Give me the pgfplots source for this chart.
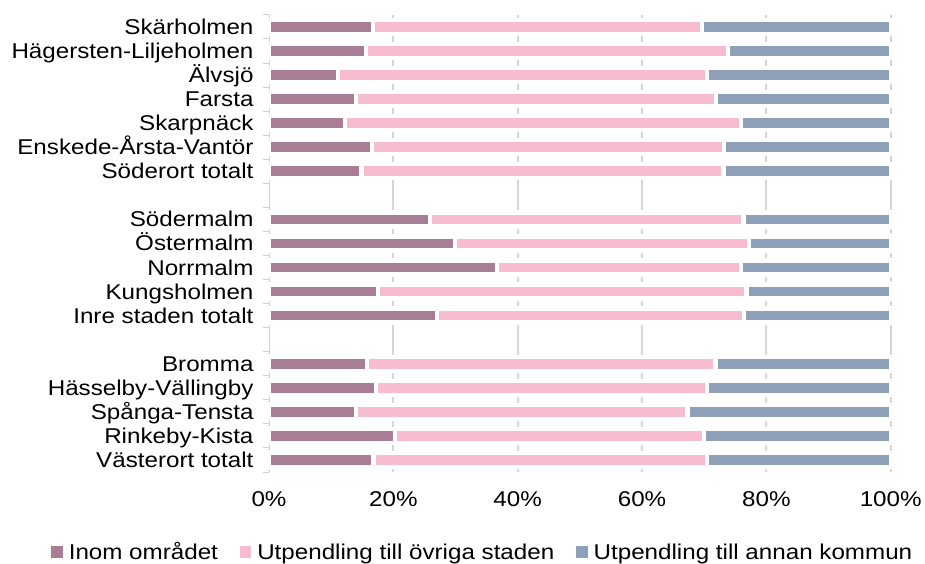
\documentclass[border=0pt]{standalone}
\usepackage{fontspec}
\setmainfont{Liberation Sans}[FakeStretch=1.13]
\usepackage{pgfplots}
\usepackage{pgfplotstable}
\pgfplotsset{compat=1.18}
\definecolor{cA}{HTML}{A77E95}
\definecolor{cB}{HTML}{F7BCD0}
\definecolor{cC}{HTML}{8E9FBA}
\definecolor{gridc}{HTML}{D6D6D6}
\definecolor{axc}{HTML}{D0D0D0}
\newcommand\fs{\fontsize{21.4pt}{24pt}\selectfont}
\pgfplotstableread{
y a b c
0 16.7 52.9 30.4
1 15.6 58.2 26.2
2 11.1 59.3 29.6
3 14.0 57.9 28.1
4 12.2 63.7 24.1
5 16.6 56.6 26.8
6 14.9 58.2 26.9
8 25.9 50.4 23.7
9 29.9 47.3 22.8
10 36.7 39.2 24.1
11 17.5 59.3 23.2
12 27.0 49.4 23.6
14 15.8 56.0 28.2
15 17.2 53.3 29.5
16 14.0 53.3 32.7
17 20.3 49.7 30.0
18 16.8 53.7 29.5
}\datatable
\pgfplotstableread{
x y
20 -0.5
20 18.5
nan nan
40 -0.5
40 18.5
nan nan
60 -0.5
60 18.5
nan nan
80 -0.5
80 18.5
nan nan
100 -0.5
100 18.5
}\gridtable
\begin{document}
\begin{tikzpicture}
\path[use as bounding box] (0,0) rectangle (925pt,563pt);
\begin{axis}[
  at={(269pt,91pt)}, anchor=south west,
  scale only axis, width=621.7pt, height=457.1pt,
  xmin=0, xmax=100, ymin=-0.5, ymax=18.5, y dir=reverse,
  hide axis, unbounded coords=jump, clip=false,
]
\addplot[draw=gridc, line width=2pt, mark=none] table[x=x,y=y] {\gridtable};
\end{axis}
\begin{axis}[
  at={(269pt,91pt)}, anchor=south west,
  scale only axis, width=621.7pt, height=457.1pt,
  xbar stacked, bar width=14pt,
  xmin=0, xmax=100, ymin=-0.5, ymax=18.5, y dir=reverse,
  axis y line*=left, axis x line*=bottom,
  x axis line style={draw=none},
  y axis line style={draw=axc, line width=1pt},
  xtick={0,20,40,60,80,100},
  xticklabels={0\%,20\%,40\%,60\%,80\%,100\%},
  major tick length=0pt,
  ytick={0,...,18},
  yticklabels={Skärholmen,Hägersten-Liljeholmen,Älvsjö,Farsta,Skarpnäck,Enskede-Årsta-Vantör,Söderort totalt,,Södermalm,Östermalm,Norrmalm,Kungsholmen,Inre staden totalt,,Bromma,Hässelby-Vällingby,Spånga-Tensta,Rinkeby-Kista,Västerort totalt},
  minor ytick={-0.5,0.5,...,18.5},
  minor tick length=6pt,
  tick align=outside,
  minor y tick style={draw=axc, line width=1pt},
  tick label style={font=\fs, text=black},
  yticklabel style={xshift=-12pt, text height=15pt, text depth=0pt},
  xticklabel style={yshift=-16pt, text height=15pt, text depth=0pt},
  legend style={draw=none, fill=none, font=\fs, legend columns=3,
    at={(0.344,-0.175)}, anchor=center,
    /tikz/every odd column/.append style={column sep=4pt},
    /tikz/every even column/.append style={column sep=20pt}},
  clip=false,
]
\addplot[fill=cA, draw=white, line width=4.3pt,
  legend image code/.code={\fill[cA] (0pt,-4pt) rectangle (7pt,4pt);}] table[x=a,y=y] {\datatable};
\addlegendentry{Inom området}
\addplot[fill=cB, draw=white, line width=4.3pt,
  legend image code/.code={\fill[cB] (0pt,-4pt) rectangle (7pt,4pt);}] table[x=b,y=y] {\datatable};
\addlegendentry{Utpendling till övriga staden}
\addplot[fill=cC, draw=white, line width=4.3pt,
  legend image code/.code={\fill[cC] (0pt,-4pt) rectangle (7pt,4pt);}] table[x=c,y=y] {\datatable};
\addlegendentry{Utpendling till annan kommun}
\end{axis}
\end{tikzpicture}
\end{document}
